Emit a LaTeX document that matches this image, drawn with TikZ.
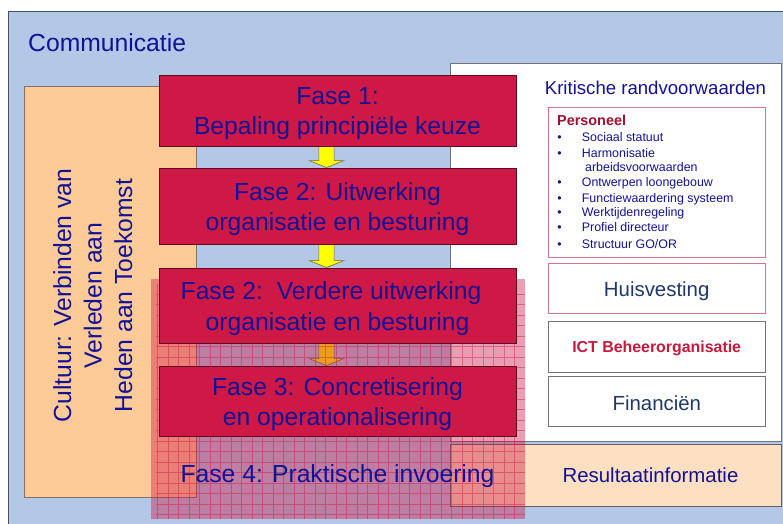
\documentclass[tikz,border=0pt]{standalone}
\usepackage{fontspec}
\setmainfont{Liberation Sans}
\usetikzlibrary{calc}

\pgfdeclarelayer{panels}
\pgfdeclarelayer{arrows}
\pgfdeclarelayer{veil}
\pgfsetlayers{panels,arrows,veil,main}

\definecolor{skyfill}{RGB}{179,199,230}
\definecolor{framegray}{RGB}{75,80,90}
\definecolor{peach}{RGB}{253,203,152}
\definecolor{lightpeach}{RGB}{253,224,194}
\definecolor{crimson}{RGB}{206,24,70}
\definecolor{crimsonedge}{RGB}{95,10,32}
\definecolor{navy}{RGB}{18,18,150}
\definecolor{slateblue}{RGB}{31,56,105}
\definecolor{wine}{RGB}{160,16,48}
\definecolor{ictred}{RGB}{200,25,60}
\definecolor{rosebord}{RGB}{215,115,140}
\definecolor{panelgray}{RGB}{115,115,115}
\definecolor{arrowyellow}{RGB}{255,255,0}
\definecolor{arrowedge}{RGB}{110,110,60}

\tikzset{
  x=1pt, y=-1pt,
  panelbox/.style={draw=panelgray, line width=0.9pt, fill=white, inner sep=0pt},
  rosebox/.style={panelbox, draw=rosebord},
  fasebox/.style={draw=crimsonedge, line width=0.9pt, fill=crimson, inner sep=0pt,
    minimum width=357pt},
  fasetext/.style={text=navy, align=center, inner sep=0pt,
    font=\fontsize{24.7}{30.5}\selectfont},
  veilbox/.style={fill=crimson, fill opacity=0.42, inner sep=0pt},
  veilgrid/.style={draw=crimson, draw opacity=0.45, line width=0.8pt},
  phasearrowstyle/.style={fill=arrowyellow, draw=arrowedge, line width=0.6pt, line join=miter},
  listitem/.style={text=navy, inner sep=0pt, font=\fontsize{12.4}{14}\selectfont},
  boxlabel/.style={inner sep=0pt, font=\fontsize{20.4}{24}\selectfont},
}

% block arrow from the bottom of one phase box to the top of the next
\newcommand\phasearrow[2]{%
  \draw[phasearrowstyle]
    ([xshift=-18.65pt]#1.south) -- ([xshift=-3.35pt]#1.south)
    -- ([xshift=-3.35pt,yshift=7pt]#2.north) -- ([xshift=6.3pt,yshift=7pt]#2.north)
    -- ([xshift=-11pt]#2.north)
    -- ([xshift=-28.3pt,yshift=7pt]#2.north) -- ([xshift=-18.65pt,yshift=7pt]#2.north)
    -- cycle;}

\begin{document}
\begin{tikzpicture}
\useasboundingbox (0,0) rectangle (783,523);

% ---------- background panels ----------
\begin{pgfonlayer}{panels}
  \fill[skyfill] (8,11) rectangle (790,530);
  \draw[framegray, line width=1pt] (8,530) -- (8,11) -- (790,11);
  \node[draw={rgb,255:red,135;green,115;blue,95}, line width=0.9pt, fill=peach,
        minimum width=172pt, minimum height=411pt, inner sep=0pt]
        (cultuur) at (110,291.5) {};
  \node[panelbox, minimum width=331pt, minimum height=378pt] (krit) at (615.5,252) {};
  \node[rosebox, minimum width=217pt, minimum height=150pt] (pers) at (656.5,182) {};
  \node[rosebox, minimum width=217pt, minimum height=50pt] (huis) at (656.5,288) {};
  \node[panelbox, minimum width=217pt, minimum height=51pt] (ict) at (656.5,346.5) {};
  \node[panelbox, minimum width=217pt, minimum height=50pt] (fin) at (656.5,401) {};
  \node[panelbox, fill=lightpeach, draw={rgb,255:red,95;green,95;blue,95},
        minimum width=331pt, minimum height=62pt] (result) at (615.5,475) {};
\end{pgfonlayer}

% ---------- phase boxes ----------
\node[fasebox, minimum height=71pt] (f1) at (337.5,110.5) {};
\node[fasebox, minimum height=76pt] (f2) at (337.5,206) {};
\node[fasebox, minimum height=75pt] (f3) at (337.5,305.5) {};
\node[fasebox, minimum height=70pt] (f4) at (337.5,401) {};

\begin{pgfonlayer}{arrows}
  \phasearrow{f1}{f2}
  \phasearrow{f2}{f3}
  \phasearrow{f3}{f4}
\end{pgfonlayer}

% translucent implementation field with its coarse grid
\begin{pgfonlayer}{veil}
  \node[veilbox, minimum width=374pt, minimum height=240pt] (fase4) at (338,399) {};
  \begin{scope}
    \clip (fase4.north west) rectangle (fase4.south east);
    \draw[veilgrid, step=10.5pt] ([shift={(5pt,-5pt)}]fase4.north west) grid (fase4.south east);
  \end{scope}
\end{pgfonlayer}

% ---------- texts ----------
\node[anchor=base west, inner sep=0pt, text=navy, font=\fontsize{24.7}{30}\selectfont]
  (comm) at (28,51.7) {Communicatie};

\node[fasetext, rotate=90] (cultuurtext) at (92.7,295.5)
  {Cultuur: Verbinden van\\Verleden aan\\Heden aan Toekomst};

\node[fasetext] (f1t) at ([yshift=-3pt]f1.center) {Fase 1:\\Bepaling principiële keuze};
\node[fasetext] (f2t) at ([yshift=-3pt]f2.center) {Fase 2: Uitwerking\\organisatie en besturing};
\node[fasetext] (f3t) at ([yshift=-3pt]f3.center) {Fase 2:\ \ Verdere uitwerking\hspace*{13pt}\\organisatie en besturing};
\node[fasetext] (f4t) at ([yshift=-3pt]f4.center) {Fase 3: Concretisering\\en operationalisering};
\node[fasetext, anchor=base] (fase4t) at (337.5,482.7) {Fase 4: Praktische invoering};

\node[anchor=base, inner sep=0pt, text=navy, font=\fontsize{18.6}{22}\selectfont]
  (krittitle) at (655.5,94.3) {Kritische randvoorwaarden};

\node[anchor=base west, inner sep=0pt, text=wine, font=\bfseries\fontsize{14.4}{17}\selectfont]
  (perstitle) at (557,125) {Personeel};

\foreach \yy/\tt [count=\i] in {141.7/{Sociaal statuut}, 157.7/{Harmonisatie},
    186.7/{Ontwerpen loongebouw}, 202/{Functiewaardering systeem},
    216.7/{Werktijdenregeling}, 231.7/{Profiel directeur}, 248.3/{Structuur GO/OR}} {
  \node[listitem, anchor=base] (bul\i) at (559.5,\yy) {\textbullet};
  \node[listitem, anchor=base west] (item\i) at (581.7,\yy) {\tt};
}
\node[listitem, anchor=base west] (itemcont) at (585,171.7) {arbeidsvoorwaarden};

\node[boxlabel, anchor=base, text=slateblue] (huist) at (656.7,296.7) {Huisvesting};
\node[anchor=base, inner sep=0pt, text=ictred, font=\bfseries\fontsize{15.9}{19}\selectfont]
  (ictt) at (656.7,352.7) {ICT Beheerorganisatie};
\node[boxlabel, anchor=base, text=slateblue] (fint) at (656.8,410) {Financiën};
\node[boxlabel, anchor=base, text=navy] (resultt) at (650.5,482.7) {Resultaatinformatie};
\end{tikzpicture}
\end{document}
